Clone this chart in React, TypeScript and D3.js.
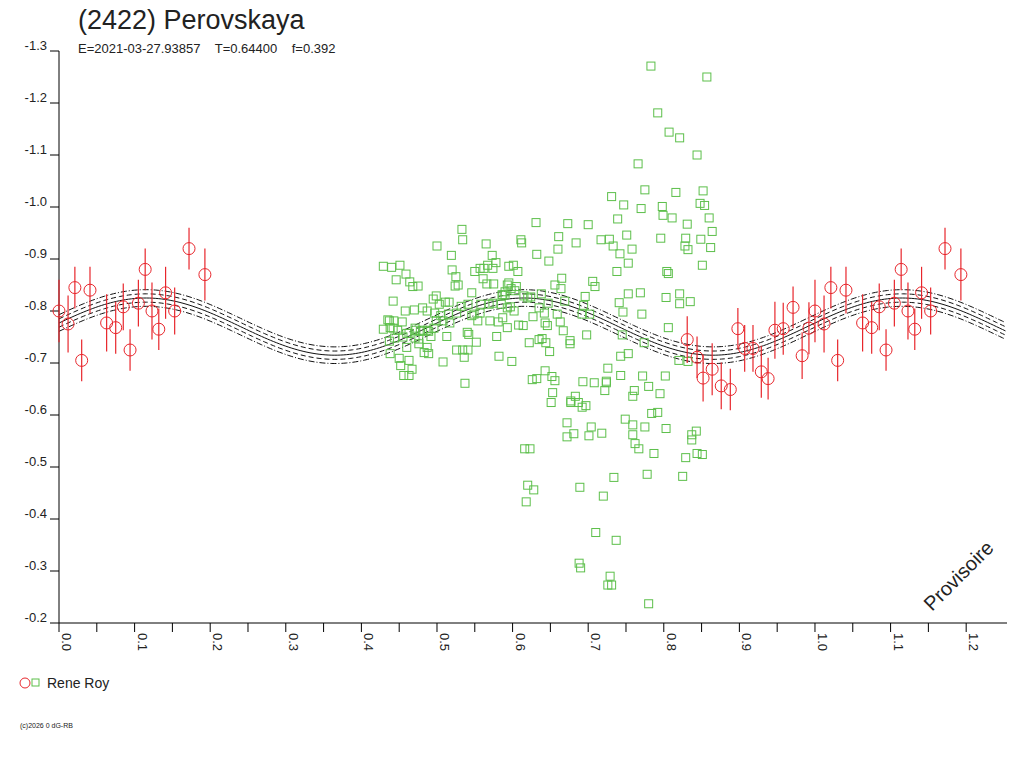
import { useEffect, useRef } from 'react'
import * as d3 from 'd3'

// red: phase, magnitude, error
const redPhase = [0.000, 0.012, 0.021, 0.030, 0.041, 0.063, 0.075, 0.085, 0.094, 0.105, 0.114, 0.123, 0.132, 0.141, 0.153, 0.172, 0.193,
  0.831, 0.844, 0.852, 0.864, 0.876, 0.888, 0.898, 0.907, 0.918, 0.929, 0.938, 0.947, 0.958, 0.971, 0.983, 0.992]
const redMag = [-0.800, -0.775, -0.845, -0.705, -0.840, -0.777, -0.768, -0.808, -0.725, -0.815, -0.880, -0.800, -0.765, -0.835, -0.800, -0.920, -0.870,
  -0.745, -0.711, -0.671, -0.688, -0.656, -0.649, -0.766, -0.728, -0.728, -0.683, -0.670, -0.763, -0.766, -0.807, -0.714, -0.767]
const redErr = [0.060, 0.055, 0.040, 0.040, 0.045, 0.055, 0.050, 0.045, 0.040, 0.045, 0.040, 0.055, 0.040, 0.050, 0.045, 0.040, 0.050,
  0.045, 0.040, 0.045, 0.050, 0.045, 0.040, 0.040, 0.045, 0.045, 0.050, 0.040, 0.055, 0.050, 0.040, 0.045, 0.050]

const greenPoints: [number, number][] = [
  [0.783, -1.271], [0.857, -1.250], [0.792, -1.181], [0.807, -1.144], [0.821, -1.133], [0.844, -1.100], [0.766, -1.083],
  [0.775, -1.033], [0.731, -1.020], [0.816, -1.028], [0.852, -1.031], [0.798, -1.001], [0.848, -1.007], [0.854, -1.003],
  [0.831, -0.967], [0.860, -0.979], [0.864, -0.953], [0.849, -0.938], [0.832, -0.918], [0.862, -0.922], [0.804, -0.876],
  [0.851, -0.888], [0.829, -0.940], [0.821, -0.833], [0.835, -0.818],
  [0.747, -1.004], [0.770, -0.997], [0.739, -0.977], [0.799, -0.984], [0.811, -0.979], [0.728, -0.938], [0.751, -0.946],
  [0.733, -0.925], [0.758, -0.919], [0.796, -0.940], [0.828, -0.925], [0.742, -0.910], [0.753, -0.892], [0.738, -0.876],
  [0.806, -0.872], [0.753, -0.833], [0.741, -0.816], [0.803, -0.826], [0.769, -0.835], [0.821, -0.814], [0.746, -0.798],
  [0.771, -0.794], [0.806, -0.768], [0.745, -0.754], [0.774, -0.739], [0.832, -0.703], [0.753, -0.718], [0.743, -0.713],
  [0.802, -0.675], [0.820, -0.705], [0.726, -0.690], [0.743, -0.676], [0.724, -0.665], [0.772, -0.675], [0.780, -0.655],
  [0.761, -0.647], [0.795, -0.641], [0.759, -0.636], [0.792, -0.605], [0.749, -0.592], [0.775, -0.577], [0.843, -0.569],
  [0.837, -0.562], [0.718, -0.565], [0.759, -0.562], [0.837, -0.552], [0.844, -0.526],
  [0.651, -0.624], [0.677, -0.624], [0.687, -0.624], [0.692, -0.615], [0.697, -0.618], [0.672, -0.585], [0.704, -0.577],
  [0.759, -0.581], [0.784, -0.603], [0.803, -0.574], [0.616, -0.535], [0.623, -0.535], [0.762, -0.545], [0.767, -0.535],
  [0.787, -0.526], [0.829, -0.518], [0.620, -0.465], [0.628, -0.456], [0.734, -0.480], [0.778, -0.486], [0.825, -0.482],
  [0.618, -0.433], [0.720, -0.444], [0.689, -0.461], [0.681, -0.564], [0.672, -0.558], [0.701, -0.560], [0.851, -0.524],
  [0.710, -0.374], [0.737, -0.359], [0.688, -0.315], [0.690, -0.306], [0.729, -0.290], [0.726, -0.273], [0.731, -0.273],
  [0.780, -0.237],
  [0.631, -0.970], [0.673, -0.968], [0.700, -0.966], [0.661, -0.943], [0.611, -0.937], [0.612, -0.931], [0.684, -0.931],
  [0.717, -0.937], [0.632, -0.909], [0.660, -0.919], [0.648, -0.896], [0.595, -0.886], [0.601, -0.888], [0.607, -0.876],
  [0.665, -0.863], [0.656, -0.850], [0.664, -0.843], [0.706, -0.857], [0.709, -0.847], [0.696, -0.828], [0.593, -0.850],
  [0.595, -0.854], [0.605, -0.847], [0.603, -0.839], [0.587, -0.831], [0.598, -0.843], [0.590, -0.837], [0.638, -0.833],
  [0.624, -0.827], [0.597, -0.808], [0.602, -0.800], [0.635, -0.806], [0.647, -0.815], [0.669, -0.819], [0.694, -0.811],
  [0.702, -0.794], [0.692, -0.794], [0.642, -0.796], [0.659, -0.794], [0.627, -0.789], [0.587, -0.787], [0.663, -0.779],
  [0.643, -0.777], [0.646, -0.772], [0.593, -0.768], [0.608, -0.773], [0.614, -0.772], [0.667, -0.762], [0.698, -0.754],
  [0.622, -0.739], [0.639, -0.747], [0.676, -0.743], [0.676, -0.737], [0.644, -0.739], [0.635, -0.745], [0.649, -0.722],
  [0.599, -0.703], [0.643, -0.685], [0.632, -0.670], [0.626, -0.668], [0.652, -0.674], [0.656, -0.666], [0.693, -0.664],
  [0.708, -0.662], [0.724, -0.662], [0.722, -0.647], [0.653, -0.643], [0.683, -0.636], [0.677, -0.627],
  [0.533, -0.957], [0.534, -0.937], [0.500, -0.925], [0.519, -0.907], [0.565, -0.929], [0.573, -0.907], [0.578, -0.893],
  [0.440, -0.884], [0.451, -0.888], [0.459, -0.871], [0.446, -0.860], [0.520, -0.879], [0.525, -0.866], [0.524, -0.848],
  [0.528, -0.850], [0.550, -0.876], [0.557, -0.882], [0.562, -0.882], [0.561, -0.862], [0.567, -0.888], [0.574, -0.882],
  [0.566, -0.852], [0.575, -0.852], [0.464, -0.856], [0.468, -0.847], [0.475, -0.848], [0.546, -0.835], [0.442, -0.819],
  [0.499, -0.829], [0.495, -0.823], [0.458, -0.800], [0.470, -0.802], [0.481, -0.806], [0.487, -0.800], [0.497, -0.796],
  [0.503, -0.813], [0.511, -0.817], [0.516, -0.817], [0.532, -0.809], [0.541, -0.813], [0.558, -0.813], [0.569, -0.813],
  [0.574, -0.815], [0.585, -0.813], [0.586, -0.831], [0.590, -0.831], [0.615, -0.829], [0.620, -0.825], [0.579, -0.751],
  [0.582, -0.713], [0.437, -0.781], [0.443, -0.781], [0.454, -0.779], [0.438, -0.768], [0.442, -0.767], [0.448, -0.763],
  [0.460, -0.757], [0.471, -0.767], [0.472, -0.763], [0.478, -0.761], [0.481, -0.763], [0.487, -0.763], [0.489, -0.761],
  [0.496, -0.767], [0.499, -0.781], [0.508, -0.781], [0.517, -0.777], [0.505, -0.791], [0.515, -0.794], [0.526, -0.796],
  [0.546, -0.791], [0.549, -0.794], [0.557, -0.796], [0.554, -0.781], [0.570, -0.781], [0.581, -0.779], [0.593, -0.806],
  [0.437, -0.742], [0.444, -0.748], [0.455, -0.750], [0.463, -0.757], [0.471, -0.748], [0.476, -0.746], [0.492, -0.751],
  [0.513, -0.751], [0.540, -0.759], [0.542, -0.755], [0.552, -0.740], [0.450, -0.709], [0.452, -0.695], [0.456, -0.676],
  [0.463, -0.676], [0.463, -0.705], [0.467, -0.688], [0.460, -0.730], [0.476, -0.737], [0.483, -0.720], [0.489, -0.718],
  [0.487, -0.730], [0.508, -0.702], [0.526, -0.725], [0.534, -0.725], [0.541, -0.725], [0.536, -0.711], [0.537, -0.661],
  [0.429, -0.886], [0.435, -0.783], [0.429, -0.765], [0.438, -0.718],
]

// Fourier fit: mean, amplitude, phase of max, and band offsets
const fitMean = -0.77
const fitAmp = 0.055
const fitPeak = 0.115
const bandOffsets = [-0.016, -0.008, 0, 0.008, 0.016]

const xTicks = [0, 0.1, 0.2, 0.3, 0.4, 0.5, 0.6, 0.7, 0.8, 0.9, 1.0, 1.1, 1.2]
const yTicks = [-1.3, -1.2, -1.1, -1.0, -0.9, -0.8, -0.7, -0.6, -0.5, -0.4, -0.3, -0.2]

const RED = '#e8262c'
const GREEN = '#5cbf4a'
const FONT = 'Liberation Sans, Arial, sans-serif'

export default function App() {
  const ref = useRef<SVGSVGElement>(null)

  useEffect(() => {
    if (!ref.current) return
    const svg = d3.select(ref.current)
    svg.selectAll('*').remove()

    const left = 59, right = 1007, top = 51, bottom = 623
    const x = d3.scaleLinear().domain([0, 1.254]).range([left, right])
    const y = d3.scaleLinear().domain([-1.3, -0.2]).range([top, bottom])

    // axes
    svg.append('line').attr('x1', left).attr('x2', left).attr('y1', top).attr('y2', bottom).attr('stroke', '#000')
    svg.append('line').attr('x1', left).attr('x2', right).attr('y1', bottom).attr('y2', bottom).attr('stroke', '#000')

    yTicks.forEach(t => {
      svg.append('line').attr('x1', left - 9).attr('x2', left).attr('y1', y(t)).attr('y2', y(t)).attr('stroke', '#000')
      svg.append('text').attr('x', left - 12).attr('y', y(t) - 1).attr('text-anchor', 'end')
        .attr('font-family', FONT).attr('font-size', 13).attr('fill', '#222').text(t.toFixed(1))
    })
    d3.range(0, 25).forEach(i => {
      const v = i * 0.05
      svg.append('line').attr('x1', x(v)).attr('x2', x(v)).attr('y1', bottom).attr('y2', bottom + 9).attr('stroke', '#000')
    })
    xTicks.forEach(t => {
      svg.append('text').attr('transform', `translate(${x(t) + 3},${bottom + 10}) rotate(90)`)
        .attr('font-family', FONT).attr('font-size', 13).attr('fill', '#222').text(t.toFixed(1))
    })

    // fit curve with band
    const samples = d3.range(0, 1.254, 0.004)
    const fit = (p: number) => fitMean - fitAmp * Math.cos(4 * Math.PI * (p - fitPeak))
    const dashes = ['6,2,1,2', '5,3', null, '5,3', '6,2,1,2']
    bandOffsets.forEach((o, i) => {
      const line = d3.line<number>().x(p => x(p)).y(p => y(fit(p) + o))
      svg.append('path').attr('d', line(samples)).attr('fill', 'none').attr('stroke', '#111')
        .attr('stroke-width', 1).attr('stroke-dasharray', dashes[i] ?? null)
    })

    // green squares
    svg.append('g').selectAll('rect').data(greenPoints).enter().append('rect')
      .attr('x', d => x(d[0]) - 4).attr('y', d => y(d[1]) - 4).attr('width', 8).attr('height', 8)
      .attr('fill', 'none').attr('stroke', GREEN).attr('stroke-width', 1)

    // red circles, repeated one cycle later
    const reds = redPhase.flatMap((p, i) => {
      const r = [{ p, m: redMag[i], e: redErr[i] }]
      if (p + 1 <= 1.254) r.push({ p: p + 1, m: redMag[i], e: redErr[i] })
      return r
    })
    const rg = svg.append('g')
    reds.forEach(d => {
      rg.append('line').attr('x1', x(d.p)).attr('x2', x(d.p)).attr('y1', y(d.m - d.e)).attr('y2', y(d.m + d.e))
        .attr('stroke', RED).attr('stroke-width', 1.2)
      rg.append('circle').attr('cx', x(d.p)).attr('cy', y(d.m)).attr('r', 6)
        .attr('fill', 'none').attr('stroke', RED).attr('stroke-width', 1)
    })

    // texts
    svg.append('text').attr('x', 78).attr('y', 29).attr('font-family', FONT).attr('font-size', 27).attr('fill', '#222')
      .text('(2422) Perovskaya')
    svg.append('text').attr('x', 78).attr('y', 53).attr('font-family', FONT).attr('font-size', 13).attr('fill', '#222')
      .attr('xml:space', 'preserve').text('E=2021-03-27.93857    T=0.64400    f=0.392')
    svg.append('text').attr('transform', 'translate(932,612) rotate(-45)').attr('font-family', FONT).attr('font-size', 20)
      .attr('fill', '#222').text('Provisoire')

    svg.append('circle').attr('cx', 25).attr('cy', 683).attr('r', 5).attr('fill', 'none').attr('stroke', RED)
    svg.append('rect').attr('x', 32).attr('y', 679).attr('width', 7).attr('height', 7).attr('fill', 'none').attr('stroke', GREEN)
    svg.append('text').attr('x', 47).attr('y', 688).attr('font-family', FONT).attr('font-size', 14).attr('fill', '#222').text('Rene Roy')
    svg.append('text').attr('x', 20).attr('y', 728).attr('font-family', FONT).attr('font-size', 7).attr('fill', '#222').text('(c)2026 0 dG-RB')
  }, [])

  return (
    <svg ref={ref} width={1024} height={768}
      style={{ position: 'absolute', left: 0, top: 0, background: '#fff' }} />
  )
}
